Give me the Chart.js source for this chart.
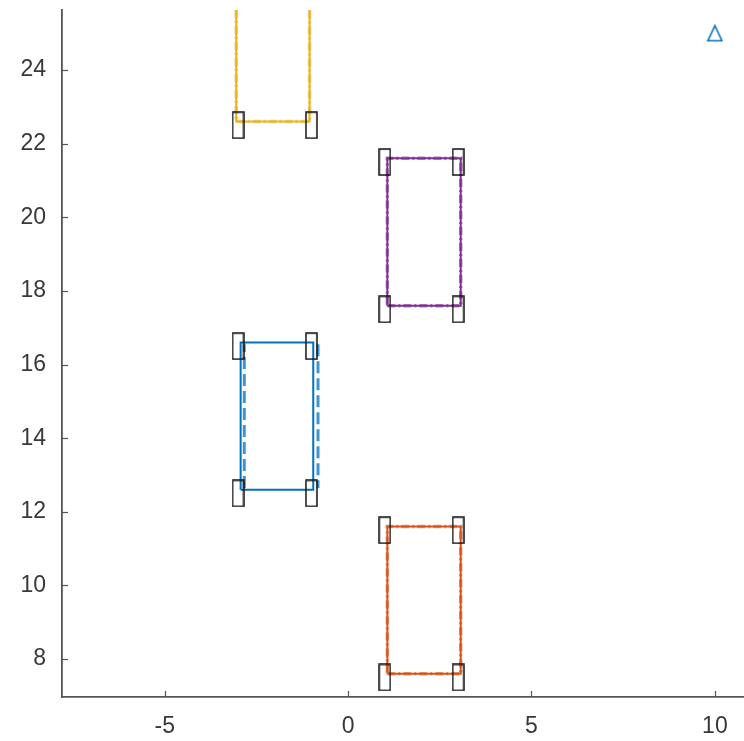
<!DOCTYPE html>
<html>
<head>
<meta charset="utf-8">
<script src="https://cdn.jsdelivr.net/npm/chart.js@4.4.0/dist/chart.umd.min.js"></script>
<style>
  html, body { margin: 0; padding: 0; background: #fff; }
  #wrap { width: 744px; height: 741px; }
</style>
</head>
<body>
<div id="wrap"><canvas id="chart" width="744" height="741"></canvas></div>
<script>
// Axis ticks
const xTicks = [-5, 0, 5, 10];
const yTicks = [8, 10, 12, 14, 16, 18, 20, 22, 24];

// Orange box
const orangeX = [1.07, 3.07, 3.07, 1.07, 1.07];
const orangeY = [7.6, 7.6, 11.6, 11.6, 7.6];

// Blue box (solid outline + dashed sides)
const blueX = [-2.93, -0.95, -0.95, -2.93, -2.93];
const blueY = [12.6, 12.6, 16.6, 16.6, 12.6];
const blueDashX = [-2.83, -2.83, null, -0.82, -0.82];
const blueDashY = [12.65, 16.55, null, 16.55, 12.65];

// Purple box
const purpleX = [1.07, 3.07, 3.07, 1.07, 1.07];
const purpleY = [17.6, 17.6, 21.6, 21.6, 17.6];

// Yellow open box (runs off the top)
const yellowX = [-3.05, -3.05, -1.05, -1.05];
const yellowY = [26.5, 22.6, 22.6, 26.5];

// Black wheel markers
const markerX = [1, 3, 1, 3, 1, 3, 1, 3, -3, -1, -3, -1, -3, -1];
const markerY = [7.5, 7.5, 11.5, 11.5, 17.5, 17.5, 21.5, 21.5, 12.5, 12.5, 16.5, 16.5, 22.5, 22.5];

// Target triangle
const targetX = [10];
const targetY = [25];

const BLUE = '#0072BD';
const ORANGE = '#D95319';
const YELLOW = '#EDB120';
const PURPLE = '#7E2F8E';
const AXIS = '#555555';
const TEXT = '#383838';
const FONT = { family: 'Liberation Sans, Arial, sans-serif', size: 23 };

function pts(xs, ys) {
  return xs.map((x, i) => ({ x: x, y: x === null ? null : ys[i] }));
}

// small upright rectangle used as marker image
const wheel = document.createElement('canvas');
wheel.width = 13;
wheel.height = 28;
const wctx = wheel.getContext('2d');
wctx.strokeStyle = '#111';
wctx.lineWidth = 1.5;
wctx.strokeRect(1, 1, 11, 26);

// open triangle marker image
const tri = document.createElement('canvas');
tri.width = 17;
tri.height = 18;
const tctx = tri.getContext('2d');
tctx.strokeStyle = BLUE;
tctx.lineWidth = 1.6;
tctx.lineJoin = 'miter';
tctx.beginPath();
tctx.moveTo(8.5, 1.5);
tctx.lineTo(15.5, 16.5);
tctx.lineTo(1.5, 16.5);
tctx.closePath();
tctx.stroke();

function lineSet(xs, ys, color, dash, width, order) {
  return {
    data: pts(xs, ys),
    showLine: true,
    borderColor: color,
    borderWidth: width,
    borderDash: dash,
    pointRadius: 0,
    pointHoverRadius: 0,
    pointBorderWidth: 0,
    spanGaps: false,
    fill: false,
    order: order
  };
}

function imageSet(xs, ys, img, order) {
  return {
    data: pts(xs, ys),
    pointStyle: img,
    pointRadius: 0.5,
    pointHoverRadius: 0,
    pointBorderWidth: 0,
    borderWidth: 0,
    showLine: false,
    order: order
  };
}

function noPad(s) {
  s.paddingTop = 0;
  s.paddingBottom = 0;
  s.paddingLeft = 0;
  s.paddingRight = 0;
}

// inward tick marks
const innerTicks = {
  id: 'innerTicks',
  afterDraw(chart) {
    const ctx = chart.ctx;
    const xs = chart.scales.x, ys = chart.scales.y;
    const area = chart.chartArea;
    ctx.save();
    ctx.strokeStyle = AXIS;
    ctx.lineWidth = 1.2;
    xTicks.forEach(v => {
      const px = Math.round(xs.getPixelForValue(v)) + 0.5;
      ctx.beginPath();
      ctx.moveTo(px, area.bottom);
      ctx.lineTo(px, area.bottom - 6);
      ctx.stroke();
    });
    yTicks.forEach(v => {
      const py = Math.round(ys.getPixelForValue(v)) + 0.5;
      ctx.beginPath();
      ctx.moveTo(area.left, py);
      ctx.lineTo(area.left + 6, py);
      ctx.stroke();
    });
    ctx.restore();
  }
};

new Chart(document.getElementById('chart'), {
  type: 'scatter',
  data: {
    datasets: [
      lineSet(orangeX, orangeY, ORANGE, [], 2, 5),
      lineSet(orangeX, orangeY, 'rgba(217,83,25,0.6)', [8, 3, 2, 3], 3.5, 4),
      lineSet(blueX, blueY, BLUE, [], 2, 5),
      lineSet(blueDashX, blueDashY, 'rgba(0,114,189,0.75)', [12, 5], 3, 4),
      lineSet(purpleX, purpleY, PURPLE, [], 2, 5),
      lineSet(purpleX, purpleY, 'rgba(126,47,142,0.6)', [8, 3, 2, 3], 3.5, 4),
      lineSet(yellowX, yellowY, YELLOW, [], 2, 5),
      lineSet(yellowX, yellowY, 'rgba(237,177,32,0.6)', [8, 3, 2, 3], 3.5, 4),
      imageSet(markerX, markerY, wheel, 1),
      imageSet(targetX, targetY, tri, 1)
    ]
  },
  options: {
    responsive: false,
    animation: false,
    devicePixelRatio: 1,
    layout: { padding: { top: 10, right: 0, left: 0, bottom: 0 } },
    plugins: { legend: { display: false }, tooltip: { enabled: false } },
    scales: {
      x: {
        type: 'linear',
        min: -7.8,
        max: 10.78,
        grid: { display: false },
        border: { display: true, color: AXIS, width: 1.8 },
        afterBuildTicks: s => { s.ticks = xTicks.map(v => ({ value: v })); },
        afterFit: s => { s.height = 44; noPad(s); },
        ticks: { color: TEXT, padding: 8, font: FONT, maxRotation: 0 }
      },
      y: {
        type: 'linear',
        min: 6.97,
        max: 25.63,
        grid: { display: false },
        border: { display: true, color: AXIS, width: 1.8 },
        afterBuildTicks: s => { s.ticks = yTicks.map(v => ({ value: v })); },
        afterFit: s => { s.width = 62; noPad(s); },
        ticks: { color: TEXT, padding: 8, font: FONT }
      }
    }
  },
  plugins: [innerTicks]
});
</script>
</body>
</html>
